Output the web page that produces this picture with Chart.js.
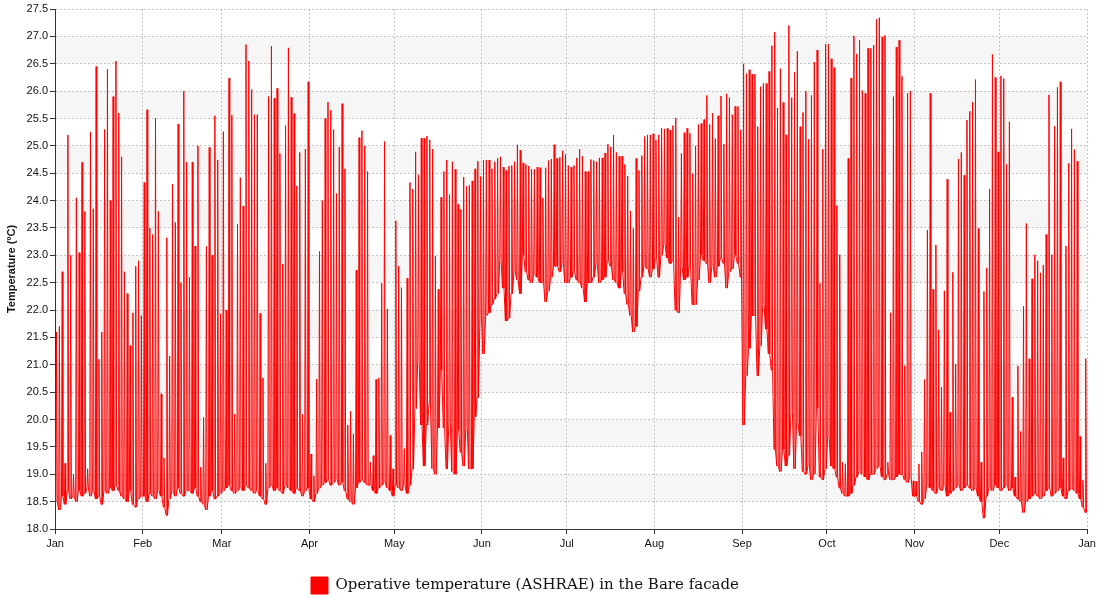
<!DOCTYPE html>
<html>
<head>
<meta charset="utf-8">
<script src="https://cdn.jsdelivr.net/npm/chart.js@4.4.1/dist/chart.umd.min.js"></script>
<style>
  html, body { margin: 0; padding: 0; background: #ffffff; }
  #wrap { width: 1101px; height: 598px; }
</style>
</head>
<body>
<div id="wrap"><canvas id="chart" width="1101" height="598"></canvas></div>
<script>
// Month boundaries (day of year) and their axis labels
const monthStarts = [0, 31, 59, 90, 120, 151, 181, 212, 243, 273, 304, 334, 365];
const monthLabels = ['Jan', 'Feb', 'Mar', 'Apr', 'May', 'Jun', 'Jul', 'Aug', 'Sep', 'Oct', 'Nov', 'Dec', 'Jan'];

// Temperature axis range and tick step (ºC)
const yMin = 18.0;
const yMax = 27.5;
const yStep = 0.5;

const seriesLabel = 'Operative temperature (ASHRAE) in the Bare facade';

// Daily peak operative temperature (ºC), one value per day
const peakJan = [21.6, 21.7, 22.7, 19.2, 25.2, 23.0, 19.0, 24.05, 23.05, 24.7, 23.8, 19.1, 25.25, 23.85, 26.45, 21.1, 21.6, 25.3, 26.4, 24.0, 25.9, 26.55, 25.6, 24.8, 22.7, 22.3, 21.35, 21.95, 22.8, 22.9, 21.9];
const peakFeb = [24.33, 25.66, 23.5, 23.38, 25.5, 23.8, 20.47, 19.3, 23.32, 21.16, 24.3, 23.6, 25.4, 22.5, 26.0, 24.7, 22.6, 24.7, 23.17, 25.0, 19.13, 20.04, 23.16, 24.97, 23.0, 25.55, 24.74, 21.93];
const peakMar = [25.26, 22.0, 26.24, 25.56, 20.1, 23.57, 24.42, 23.9, 26.85, 26.55, 26.03, 25.57, 25.57, 21.94, 20.76, 19.2, 25.9, 26.82, 25.87, 26.05, 24.86, 22.84, 25.37, 26.79, 25.89, 25.59, 24.27, 24.88, 20.1, 24.94, 26.17];
const peakApr = [19.37, 18.97, 20.74, 23.07, 24.0, 25.5, 25.8, 25.65, 25.3, 24.13, 24.98, 25.77, 24.58, 19.9, 20.15, 19.74, 22.73, 25.15, 25.28, 25.0, 24.53, 19.22, 19.34, 20.73, 20.76, 22.49, 25.08, 22.02, 19.71, 19.1];
const peakMay = [23.63, 22.8, 22.41, 19.47, 22.58, 24.33, 24.21, 24.89, 24.47, 25.14, 25.14, 25.18, 25.11, 24.94, 22.98, 22.38, 24.06, 24.53, 24.74, 24.11, 24.71, 24.57, 23.93, 23.84, 24.43, 24.26, 24.28, 24.36, 24.58, 24.72, 24.44];
const peakJun = [24.74, 24.74, 24.74, 24.58, 24.71, 24.77, 24.8, 24.61, 24.55, 24.63, 24.64, 24.71, 25.02, 24.92, 24.69, 24.66, 24.63, 24.57, 24.57, 24.61, 24.6, 24.05, 24.6, 24.73, 24.76, 25.02, 24.77, 24.79, 24.91, 24.84];
const peakJul = [24.64, 24.61, 24.64, 24.78, 24.94, 24.81, 24.53, 24.53, 24.75, 24.73, 24.71, 24.78, 24.78, 24.87, 25.03, 24.98, 25.2, 24.88, 24.81, 24.81, 24.66, 24.45, 23.81, 23.49, 24.77, 24.55, 24.82, 25.17, 25.2, 25.2, 25.22];
const peakAug = [25.11, 25.2, 25.32, 25.31, 25.32, 25.29, 25.37, 25.51, 23.7, 24.86, 25.24, 25.32, 25.23, 24.49, 25.0, 25.39, 25.41, 25.48, 25.92, 25.39, 25.6, 25.13, 25.55, 25.91, 25.03, 25.95, 25.88, 25.57, 25.72, 25.72, 25.29];
const peakSep = [26.5, 26.32, 26.39, 26.31, 26.31, 25.35, 26.08, 26.14, 26.14, 26.36, 26.83, 27.08, 25.69, 26.41, 25.79, 25.2, 27.2, 25.88, 26.35, 26.73, 25.35, 25.61, 26.0, 25.12, 25.92, 26.53, 26.75, 22.49, 24.94, 26.86];
const peakOct = [26.86, 26.59, 26.43, 23.91, 23.01, 19.22, 19.19, 24.77, 26.24, 27.01, 26.68, 26.93, 26.01, 25.96, 26.78, 26.78, 26.84, 27.31, 27.34, 26.99, 27.02, 19.22, 21.95, 25.9, 26.8, 26.93, 26.27, 20.98, 25.96, 26.0, 18.88];
const peakNov = [18.87, 19.19, 19.41, 20.73, 23.46, 25.96, 22.38, 23.19, 21.64, 20.59, 22.35, 24.39, 20.13, 22.69, 21.01, 24.76, 24.88, 24.46, 25.47, 25.63, 25.8, 26.21, 23.49, 19.22, 22.34, 22.77, 24.21, 26.67, 26.25, 24.89];
const peakDec = [26.28, 26.23, 24.66, 25.44, 20.41, 18.95, 20.98, 19.78, 22.07, 23.58, 21.11, 22.57, 23.01, 22.9, 22.68, 22.82, 23.38, 25.93, 23.01, 25.36, 26.07, 26.17, 19.3, 23.17, 24.68, 25.31, 24.93, 24.72, 19.69, 18.89, 21.11];

// Daily low operative temperature (ºC), one value per day
const lowJan = [18.5, 18.35, 18.6, 18.45, 18.7, 18.55, 18.6, 18.5, 18.7, 18.6, 18.65, 18.75, 18.6, 18.7, 18.55, 18.6, 18.45, 18.7, 18.65, 18.75, 18.7, 18.8, 18.7, 18.6, 18.55, 18.5, 18.7, 18.45, 18.4, 18.55, 18.6];
const lowFeb = [18.6, 18.5, 18.65, 18.6, 18.55, 18.7, 18.6, 18.4, 18.25, 18.55, 18.7, 18.6, 18.75, 18.65, 18.6, 18.7, 18.7, 18.65, 18.75, 18.6, 18.5, 18.45, 18.35, 18.6, 18.7, 18.55, 18.6, 18.65];
const lowMar = [18.7, 18.75, 18.8, 18.7, 18.65, 18.7, 18.75, 18.7, 18.8, 18.75, 18.7, 18.65, 18.7, 18.6, 18.55, 18.45, 18.75, 18.8, 18.7, 18.75, 18.7, 18.65, 18.8, 18.75, 18.7, 18.65, 18.75, 18.7, 18.6, 18.7, 18.75];
const lowApr = [18.55, 18.5, 18.65, 18.75, 18.8, 18.85, 18.9, 18.8, 18.85, 18.9, 18.8, 18.85, 18.7, 18.55, 18.5, 18.45, 18.75, 18.85, 18.9, 18.85, 18.8, 18.8, 18.7, 18.65, 18.75, 18.8, 18.85, 18.75, 18.7, 18.6];
const lowMay = [18.8, 18.75, 18.7, 18.8, 18.65, 18.8, 19.1, 20.2, 21.1, 19.9, 19.15, 19.9, 20.3, 19.1, 19.0, 19.85, 20.9, 19.85, 19.1, 19.95, 19.05, 19.0, 19.8, 19.4, 19.15, 19.85, 19.1, 19.1, 20.05, 20.4, 21.9];
const lowJun = [21.2, 21.9, 21.95, 22.1, 22.2, 22.3, 22.9, 22.4, 21.8, 21.85, 22.3, 22.7, 22.55, 22.3, 23.0, 22.7, 22.55, 22.5, 22.65, 22.6, 22.5, 22.5, 22.15, 22.35, 22.6, 22.8, 22.8, 22.7, 22.85, 22.5];
const lowJul = [22.5, 22.6, 22.7, 22.55, 22.5, 22.4, 22.15, 22.5, 22.5, 22.6, 22.85, 22.5, 22.55, 22.6, 22.9, 22.8, 22.55, 22.5, 22.4, 22.7, 22.3, 22.1, 21.9, 21.6, 21.7, 22.35, 22.6, 22.8, 22.75, 22.6, 22.75];
const lowAug = [22.95, 22.6, 23.0, 23.2, 22.95, 22.85, 22.9, 22.0, 21.95, 22.8, 22.55, 22.6, 22.8, 22.1, 22.1, 22.55, 23.0, 22.9, 22.85, 22.5, 22.8, 22.6, 22.8, 22.95, 22.85, 22.4, 22.7, 22.75, 23.0, 22.85, 22.6];
const lowSep = [19.9, 20.8, 21.3, 21.9, 21.9, 20.8, 21.35, 22.1, 21.65, 21.2, 20.9, 19.45, 19.15, 19.05, 19.45, 19.15, 19.35, 20.15, 19.1, 19.95, 19.7, 19.05, 19.0, 19.15, 18.9, 19.0, 20.2, 18.95, 18.9, 19.1];
const lowOct = [19.7, 19.15, 19.1, 18.95, 18.75, 18.65, 18.6, 18.6, 18.65, 18.8, 18.95, 19.05, 19.0, 18.95, 18.9, 19.0, 19.0, 19.1, 19.15, 18.95, 18.9, 19.0, 18.9, 18.9, 18.95, 19.0, 19.0, 18.9, 18.85, 18.95, 18.6];
const lowNov = [18.6, 18.5, 18.45, 18.55, 18.8, 18.75, 18.7, 18.65, 18.75, 18.7, 18.8, 18.6, 18.65, 18.7, 18.75, 18.8, 18.7, 18.75, 18.8, 18.75, 18.7, 18.75, 18.6, 18.5, 18.2, 18.6, 18.75, 18.7, 18.8, 18.75];
const lowDec = [18.7, 18.75, 18.8, 18.7, 18.75, 18.6, 18.55, 18.5, 18.3, 18.5, 18.55, 18.6, 18.65, 18.6, 18.55, 18.6, 18.7, 18.75, 18.6, 18.65, 18.7, 18.75, 18.6, 18.55, 18.7, 18.75, 18.7, 18.65, 18.55, 18.4, 18.3];

const dailyPeak = [].concat(peakJan, peakFeb, peakMar, peakApr, peakMay, peakJun,
                            peakJul, peakAug, peakSep, peakOct, peakNov, peakDec);
const dailyLow = [].concat(lowJan, lowFeb, lowMar, lowApr, lowMay, lowJun,
                           lowJul, lowAug, lowSep, lowOct, lowNov, lowDec);

// Each day: low in the morning, afternoon peak, back to the low in the evening
const series = [];
dailyPeak.forEach((peak, day) => {
  series.push({ x: day + 0.3, y: dailyLow[day] });
  series.push({ x: day + 0.55, y: peak });
  series.push({ x: day + 0.8, y: dailyLow[day] });
});

// Alternating light bands between every other pair of temperature gridlines
const bandPlugin = {
  id: 'bands',
  beforeDraw(chart) {
    const { ctx, chartArea, scales } = chart;
    const y = scales.y;
    ctx.save();
    ctx.fillStyle = '#f6f6f6';
    for (let v = yMin + yStep; v < yMax; v += 2 * yStep) {
      const top = y.getPixelForValue(v + yStep);
      const bottom = y.getPixelForValue(v);
      ctx.fillRect(chartArea.left, top, chartArea.right - chartArea.left, bottom - top);
    }
    ctx.restore();
  }
};

// Legend sits a little lower and left of the default centred spot
const legendPlacePlugin = {
  id: 'legendPlace',
  afterLayout(chart) {
    const lg = chart.legend;
    if (!lg) return;
    lg.left = 301;
    lg.top += 6;
    lg.bottom += 6;
  }
};

const tickFont = { family: '"Liberation Sans", Arial, sans-serif', size: 11 };

new Chart(document.getElementById('chart'), {
  type: 'line',
  data: {
    datasets: [{
      label: seriesLabel,
      data: series,
      borderColor: '#ff0000',
      backgroundColor: '#ff0000',
      borderWidth: 1,
      borderJoinStyle: 'round',
      pointRadius: 0,
      fill: false,
      tension: 0
    }]
  },
  options: {
    responsive: false,
    animation: false,
    devicePixelRatio: 1,
    layout: { padding: { top: 9, right: 14, bottom: 0, left: 0 } },
    plugins: {
      tooltip: { enabled: false },
      legend: {
        position: 'bottom',
        align: 'start',
        labels: {
          boxWidth: 17,
          boxHeight: 17,
          padding: 10,
          color: '#111',
          font: { family: '"DejaVu Serif", serif', size: 15 }
        }
      }
    },
    scales: {
      x: {
        type: 'linear',
        min: monthStarts[0],
        max: monthStarts[monthStarts.length - 1],
        afterBuildTicks(scale) {
          scale.ticks = monthStarts.map(v => ({ value: v }));
        },
        afterFit(scale) { scale.height = 32; },
        ticks: {
          autoSkip: false,
          maxRotation: 0,
          padding: 3,
          color: '#111',
          font: tickFont,
          callback: (value, index) => monthLabels[index]
        },
        grid: {
          color: '#c4c4c4',
          lineWidth: 1,
          tickColor: '#333',
          tickLength: 5,
          tickBorderDash: []
        },
        border: { display: true, color: '#333', width: 1, dash: [2, 2] }
      },
      y: {
        min: yMin,
        max: yMax,
        afterFit(scale) { scale.width = 55; },
        ticks: {
          stepSize: yStep,
          padding: 2,
          color: '#111',
          font: tickFont,
          callback: v => Number(v).toFixed(1)
        },
        title: {
          display: true,
          text: 'Temperature (ºC)',
          color: '#111',
          padding: { top: 5, bottom: 0 },
          font: { family: '"Liberation Sans", Arial, sans-serif', size: 11, weight: 'bold' }
        },
        grid: {
          color: '#c4c4c4',
          lineWidth: 1,
          tickColor: '#333',
          tickLength: 5,
          tickBorderDash: []
        },
        border: { display: true, color: '#333', width: 1, dash: [2, 2] }
      }
    }
  },
  plugins: [bandPlugin, legendPlacePlugin]
});
</script>
</body>
</html>
